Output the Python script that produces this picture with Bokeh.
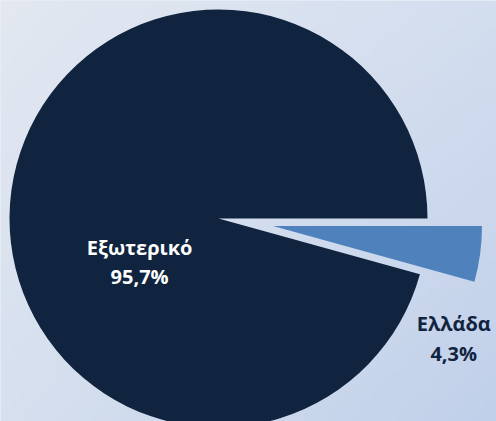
import numpy as np
from bokeh.plotting import figure
from bokeh.models import Range1d, ColumnDataSource
from bokeh.core.properties import value
from bokeh.embed import file_html
from bokeh.resources import INLINE

# ---- data ----
categories = ["Εξωτερικό", "Ελλάδα"]
shares = [95.7, 4.3]
share_labels = ["95,7%", "4,3%"]

# ---- style / layout ----
slice_colors = ["#10243F", "#4F81BD"]
label_colors = ["#FFFFFF", "#10243F"]
explode = [0, 55]
label_polar = [(208.8, 90), (-27.0, 264)]  # (angle deg, radius px) relative to pie centre
W, H = 496, 421
cx, cy, R = 218, 203, 209

p = figure(width=W, height=H, output_backend="svg", toolbar_location=None,
           x_range=Range1d(0, W), y_range=Range1d(0, H), min_border=0)
p.axis.visible = False
p.grid.visible = False
p.outline_line_color = None
p.background_fill_color = "#d6dfee"
p.border_fill_color = "#d6dfee"

# background gradient
ny, nx = 60, 80
tl = np.array([227, 232, 241]); tr = np.array([211, 222, 239])
bl = np.array([214, 224, 239]); br = np.array([193, 208, 234])
u = np.linspace(0, 1, nx)[None, :, None]
v = np.linspace(0, 1, ny)[:, None, None]  # 0 bottom -> 1 top
top = tl * (1 - u) + tr * u
bot = bl * (1 - u) + br * u
rgb = bot * (1 - v) + top * v
img = np.zeros((ny, nx), dtype=np.uint32)
view = img.view(dtype=np.uint8).reshape((ny, nx, 4))
view[:, :, 0] = rgb[:, :, 0].astype(np.uint8)
view[:, :, 1] = rgb[:, :, 1].astype(np.uint8)
view[:, :, 2] = rgb[:, :, 2].astype(np.uint8)
view[:, :, 3] = 255
p.image_rgba(image=[img], x=0, y=0, dw=W, dh=H)

# wedges
frac = np.array(shares) / sum(shares)
cum = np.concatenate([[0], np.cumsum(frac)]) * 2 * np.pi
starts, ends = cum[:-1], cum[1:]
mids = (starts + ends) / 2
xs = [cx + e * np.cos(m) for e, m in zip(explode, mids)]
ys = [cy + e * np.sin(m) for e, m in zip(explode, mids)]
src = ColumnDataSource(dict(x=xs, y=ys, start=starts, end=ends, color=slice_colors, cat=categories))
p.wedge(x="x", y="y", radius=R, start_angle="start", end_angle="end",
        fill_color="color", line_color=None, source=src)

# labels
lx = [cx + r * np.cos(np.radians(a)) for a, r in label_polar]
ly = [cy + r * np.sin(np.radians(a)) for a, r in label_polar]
txt = [f"{c}\n{s}" for c, s in zip(categories, share_labels)]
lsrc = ColumnDataSource(dict(x=lx, y=ly, t=txt, c=label_colors))
p.text(x="x", y="y", text="t", text_color="c", source=lsrc,
       text_font=value("Open Sans"), text_font_style="bold", text_font_size="20px",
       text_align="center", text_baseline="middle", text_line_height=1.1)

open("out.html", "w").write(file_html(p, INLINE))
